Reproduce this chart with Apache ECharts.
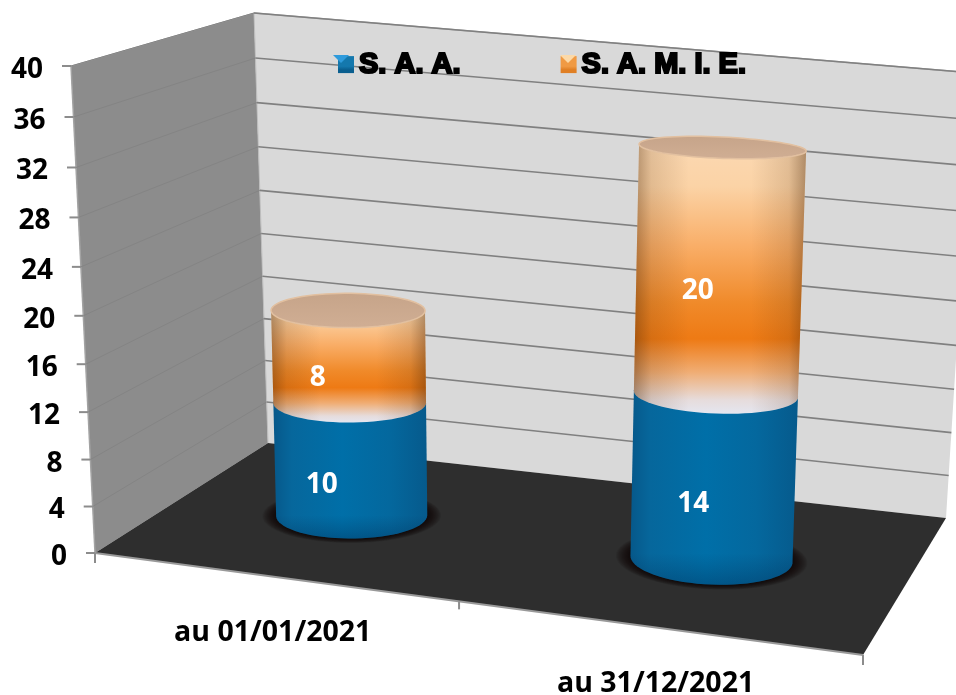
<!DOCTYPE html>
<html><head><meta charset="utf-8">
<style>html,body{margin:0;padding:0;background:#fff}#c{width:956px;height:695px}</style>
<script src="https://cdn.jsdelivr.net/npm/echarts@6/dist/echarts.min.js"></script>
</head><body><div id="c"></div>
<script>
const categories = ['au 01/01/2021', 'au 31/12/2021'];
const saa = [10, 14];
const samie = [8, 20];
const yTicks = [0, 4, 8, 12, 16, 20, 24, 28, 32, 36, 40];
const seriesNames = ['S. A. A.', 'S. A. M. I. E.'];

// layout of the axis plane and of the perspective box
const G = {left: 100, top: 100, width: 700, height: 400};
const FLOOR = [[95,553],[863,655],[268,443],[946,518]];
const RISE  = [[-24,-487],[20,-548],[-14,-430],[28,-445]];
const FONT = '"Open Sans", sans-serif';
const RC = 0.103, RD = 0.186, DEPTH = 0.495, PERSP = 1.053, TAPER = 0.02;
const blueLabelOffset = [[-29,26],[-20,28]];
const orangeLabelOffset = [[-31,22],[-21,19]];

const cross = (a,b)=>[a[1]*b[2]-a[2]*b[1], a[2]*b[0]-a[0]*b[2], a[0]*b[1]-a[1]*b[0]];
const dot = (a,b)=>a[0]*b[0]+a[1]*b[1]+a[2]*b[2];
const det = (a,b,c)=>dot(a,cross(b,c));
const sub = (a,b)=>a.map((x,i)=>x-b[i]);
const mul = (a,k)=>a.map(x=>x*k);
function quadMap(q){
  const [A,B,C,D]=q.map(p=>[p[0],p[1],1]);
  const nD=mul(D,-1), dn=det(B,C,nD);
  const ku=det(A,C,nD)/dn, kv=det(B,A,nD)/dn;
  const U=sub(mul(B,ku),A), V=sub(mul(C,kv),A);
  return (c,d)=>{const X=[0,1,2].map(i=>A[i]+c*U[i]+d*V[i]);return [X[0]/X[2],X[1]/X[2]];};
}
const floorAt=quadMap(FLOOR);
function riseAt(c,d,k){
  return (1-c)*(1-d)*RISE[0][k]+c*(1-d)*RISE[1][k]+(1-c)*d*RISE[2][k]+c*d*RISE[3][k];
}
function proj(c,d,h){
  const g=h/(h+(1-h)*PERSP), a=floorAt(c,d);
  return [a[0]+riseAt(c,d,0)*g, a[1]+riseAt(c,d,1)*g];
}
const toC = px => (px[0]-G.left)/G.width;
const toH = px => (G.top+G.height-px[1])/G.height;

function circle(c,d,h,scale){
  const pts=[], s=(scale||1)*(1-TAPER*h);
  for(let i=0;i<72;i++){const t=i/72*Math.PI*2;pts.push(proj(c+RC*s*Math.cos(t),d+RD*s*Math.sin(t),h));}
  return pts;
}
function hull(points){
  const p=points.slice().sort((a,b)=>a[0]-b[0]||a[1]-b[1]);
  const cr=(o,a,b)=>(a[0]-o[0])*(b[1]-o[1])-(a[1]-o[1])*(b[0]-o[0]);
  const lo=[],up=[];
  for(const q of p){while(lo.length>1&&cr(lo[lo.length-2],lo[lo.length-1],q)<=0)lo.pop();lo.push(q);}
  for(const q of p.slice().reverse()){while(up.length>1&&cr(up[up.length-2],up[up.length-1],q)<=0)up.pop();up.push(q);}
  return lo.slice(0,-1).concat(up.slice(0,-1));
}
const lin=(x,y,x2,y2,stops)=>({type:'linear',x,y,x2,y2,colorStops:stops.map(s=>({offset:s[0],color:s[1]}))});
const poly=(points,style,z2)=>({type:'polygon',shape:{points},style,z2:z2||0});
const line=(a,b,color,w,z2)=>({type:'line',shape:{x1:a[0],y1:a[1],x2:b[0],y2:b[1]},style:{stroke:color,lineWidth:w},z2:z2||0});

function renderFrame(){
  const a=proj(0,0,0),b=proj(1,0,0),c=proj(0,1,0),d=proj(1,1,0),e=proj(0,0,1),f=proj(0,1,1),g=proj(1,1,1),m=proj(.505,0,0);
  return {type:'group',children:[
    poly([e,f,c,a],{fill:'#8c8c8c'}),
    poly([f,g,d,c],{fill:'#d9d9d9'}),
    poly([a,c,d,b],{fill:'#2e2e2e'}),
    line(f,g,'#a6a6a6',1.5),
    line(e,a,'#a3a3a3',1.5),
    line(f,c,'#bdbdbd',1),
    line(e,f,'#a3a3a3',1),
    line(a,b,'#999999',2),
    line(a,[a[0],a[1]+10],'#8c8c8c',2),
    line(m,[m[0],m[1]+8],'#8c8c8c',2),
    line(b,[b[0],b[1]+10],'#8c8c8c',2)
  ]};
}
function renderTick(params,api){
  const v=api.value(1);
  const h=toH(api.coord([0,v]));
  const f=proj(0,0,h),m=proj(0,1,h),r=proj(1,1,h);
  const ch=[
    line([f[0]-9,f[1]],f,'#8c8c8c',2),
    {type:'text',style:{text:String(v),x:f[0]-28,y:f[1]+4,align:'right',verticalAlign:'middle',fill:'#000',font:'bold 28px '+FONT}}
  ];
  if(v>0){ch.push(line(f,m,'#848484',1));ch.push(line(m,r,'#808080',1.6));}
  return {type:'group',children:ch};
}
function renderCat(params,api){
  const c=toC(api.coord([api.value(0),0]));
  const p=proj(c,0,0);
  return {type:'text',style:{text:categories[params.dataIndex],x:p[0]+3,y:p[1]+57,align:'center',verticalAlign:'middle',fill:'#000',font:'bold 28.5px '+FONT}};
}
const edgeShade=lin(0,0,1,0,[[0,'rgba(70,35,5,.42)'],[.1,'rgba(70,35,5,.14)'],[.32,'rgba(70,35,5,0)'],[.68,'rgba(70,35,5,0)'],[.9,'rgba(70,35,5,.14)'],[1,'rgba(70,35,5,.42)']]);
function renderBlue(params,api){
  const i=params.dataIndex;
  const cp=api.coord([api.value(0),api.value(2)]);
  const c=toC(cp),h=toH(cp);
  const base=circle(c,DEPTH,0), top=circle(c,DEPTH,h);
  const body=hull(base.concat(top));
  const mid=proj(c,DEPTH,h/2);
  const halo=[1.18,1.165,1.15,1.135,1.12,1.105,1.09,1.075,1.06,1.045,1.03,1.015].map(s=>poly(circle(c,DEPTH,0,s),{fill:'rgba(10,5,0,.09)'}));
  return {type:'group',children:halo.concat([
    poly(body,{fill:lin(0,0,1,0,[[0,'#06588a'],[.12,'#06679c'],[.45,'#006fa8'],[.75,'#04689e'],[1,'#065a8c']])}),
    poly(body,{fill:lin(0,0,0,1,[[0,'rgba(0,60,100,0)'],[.85,'rgba(0,50,90,0)'],[1,'rgba(0,40,80,.35)']])}),
    {type:'text',style:{text:String(api.value(1)),x:mid[0]+blueLabelOffset[i][0],y:mid[1]+blueLabelOffset[i][1],align:'center',verticalAlign:'middle',fill:'#fff',font:'bold 28px '+FONT}}
  ])};
}
function renderOrange(params,api){
  const i=params.dataIndex;
  const cb=api.coord([api.value(0),api.value(2)]), ct=api.coord([api.value(0),api.value(3)]);
  const c=toC(cb),h0=toH(cb),h1=toH(ct);
  const lo=circle(c,DEPTH,h0), hi=circle(c,DEPTH,h1);
  const body=hull(lo.concat(hi));
  const mid=proj(c,DEPTH,(h0+h1)/2);
  return {type:'group',children:[
    poly(body,{fill:lin(0,0,0,1,[[0,'#fbd9b4'],[.18,'#fbd3a6'],[.4,'#f9ad66'],[.6,'#f08a2a'],[.73,'#ee7a14'],[.85,'#f0ad74'],[.95,'#e6dcdc'],[1,'#e4e6f0']])}),
    poly(body,{fill:edgeShade}),
    poly(hi,{fill:lin(0,0,0,1,[[0,'#c6a489'],[1,'#d0ae94']]),stroke:'#e2c0a0',lineWidth:1.5}),
    {type:'text',style:{text:String(api.value(1)),x:mid[0]+orangeLabelOffset[i][0],y:mid[1]+orangeLabelOffset[i][1],align:'center',verticalAlign:'middle',fill:'#fff',font:'bold 28px '+FONT}}
  ]};
}
const chart=echarts.init(document.getElementById('c'),null,{renderer:'canvas',width:956,height:695});
chart.setOption({
  animation:false,
  backgroundColor:'#fff',
  grid:G,
  xAxis:{type:'category',data:categories,show:false},
  yAxis:{type:'value',min:0,max:40,interval:4,show:false},
  legend:{
    left:333,top:44,itemWidth:16,itemHeight:17,itemGap:99,icon:'rect',
    textStyle:{color:'#000',fontFamily:'"Liberation Sans", sans-serif',fontWeight:'bold',fontSize:29,textBorderColor:'#000',textBorderWidth:2.2},
    data:[{name:seriesNames[0],itemStyle:{color:lin(0,0,0,1,[[0,'#1478ad'],[.6,'#1478ad'],[.8,'#0a5f8f'],[1,'#0a5f8f']])}},
          {name:seriesNames[1],itemStyle:{color:lin(0,0,0,1,[[0,'#f09a44'],[.6,'#f09a44'],[.8,'#e07f24'],[1,'#e07f24']])}}]
  },
  graphic:[
    {type:'polygon',z:10,silent:true,shape:{points:[[333,55],[349,55],[341,63]]},style:{fill:'#2f9bdc'}},
    {type:'polygon',z:10,silent:true,shape:{points:[[560,55],[576,55],[568,63]]},style:{fill:'#fcd9a8'}}
  ],
  series:[
    {type:'custom',name:'frame',z:1,silent:true,renderItem:renderFrame,data:[[0,0]]},
    {type:'custom',name:'ticks',z:1,silent:true,renderItem:renderTick,data:yTicks.map(v=>[0,v]),encode:{x:0,y:1}},
    {type:'custom',name:'cats',z:1,silent:true,renderItem:renderCat,data:categories.map((_,i)=>[i,0]),encode:{x:0,y:1}},
    {type:'custom',name:seriesNames[0],z:2,renderItem:renderBlue,itemStyle:{color:'#0a6ca2'},
      data:saa.map((v,i)=>[i,v,v]),encode:{x:0,y:2}},
    {type:'custom',name:seriesNames[1],z:3,renderItem:renderOrange,itemStyle:{color:'#ec8a2c'},
      data:samie.map((v,i)=>[i,v,saa[i],saa[i]+v]),encode:{x:0,y:3}}
  ]
});
</script></body></html>
